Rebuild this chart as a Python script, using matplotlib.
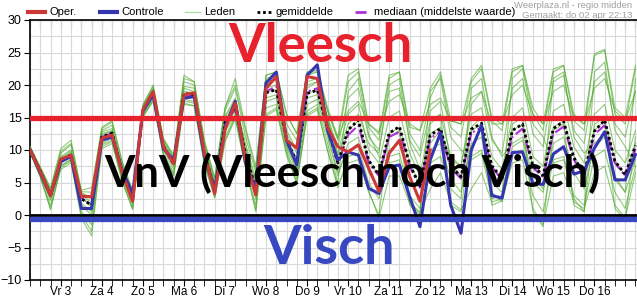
import numpy as np
import matplotlib
matplotlib.use("Agg")
import matplotlib.pyplot as plt
from matplotlib.lines import Line2D

plt.rcParams["font.family"] = ["Liberation Sans", "DejaVu Sans"]

# 6-hourly steps, starting at day 2 18:00
day_labels = ["Vr 3", "Za 4", "Zo 5", "Ma 6", "Di 7", "Wo 8", "Do 9", "Vr 10",
              "Za 11", "Zo 12", "Ma 13", "Di 14", "Wo 15", "Do 16"]

oper = [10.0, 6.7, 3.0, 8.6, 9.2, 2.9, 2.8, 11.8, 12.3, 6.4, 2.1, 16.2, 19.0, 10.5, 7.9,
        18.5, 18.8, 9.5, 3.3, 13.1, 17.2, 8.5, 3.1, 19.5, 21.3, 11.5, 10.3, 21.3, 21.0, 13.5,
        10.5, 9.7, 10.8, 7.2, 3.6, 9.5, 11.5, 5.9, 2.1, 10.0]

controle = [10.0, 6.5, 3.0, 8.2, 9.0, 1.0, 1.0, 11.5, 12.0, 6.8, 3.3, 16.0, 18.5, 10.2, 8.5,
            18.0, 18.2, 9.0, 4.0, 13.5, 17.5, 8.0, 4.0, 20.3, 22.0, 11.5, 7.7, 21.5, 23.1, 13.0,
            8.5, 9.7, 9.2, 4.1, 3.3, 7.4, 7.7, 2.8, -1.8, 8.5, 12.6, 1.5, -2.8, 10.0, 13.8,
            3.0, 2.6, 9.6, 9.7, 4.9, 4.7, 9.4, 10.5, 6.3, 6.8, 10.3, 12.8, 5.4, 5.4, 9.3]

gemiddelde = [10.0, 6.8, 3.0, 8.3, 9.3, 2.5, 1.5, 12.0, 12.6, 6.5, 2.5, 16.0, 18.7, 10.6, 7.8,
              18.7, 18.5, 9.5, 3.9, 14.2, 16.5, 9.5, 4.0, 18.8, 19.3, 11.5, 8.2, 18.7, 19.2, 13.4,
              8.0, 13.1, 14.6, 8.4, 6.2, 12.6, 13.6, 7.8, 4.5, 12.3, 13.3, 7.5, 5.9, 13.2, 14.1,
              7.6, 5.6, 13.0, 14.0, 7.6, 6.1, 13.3, 14.4, 8.8, 6.4, 12.9, 14.6, 8.3, 6.2, 10.7]

mediaan = [10.0, 6.8, 3.0, 8.3, 9.3, 2.6, 1.6, 12.0, 12.6, 6.5, 2.5, 16.0, 18.7, 10.6, 7.8,
           18.6, 18.4, 9.4, 3.8, 14.0, 16.3, 9.3, 3.8, 19.0, 19.8, 11.4, 8.0, 19.0, 19.5, 13.2,
           7.8, 12.3, 13.8, 8.0, 6.0, 12.0, 12.8, 7.5, 4.2, 11.8, 12.8, 7.2, 5.6, 12.6, 13.5,
           7.4, 5.4, 12.0, 13.3, 7.3, 5.8, 12.5, 13.6, 8.5, 6.0, 12.4, 13.8, 8.0, 6.0, 10.2]

# ensemble members (a selection)
lid_01 = [10.5, 7.2, 3.8, 9.5, 10.8, 3.5, 2.5, 13.0, 13.8, 7.5, 3.2, 16.8, 19.8, 11.5, 8.8,
          21.5, 20.5, 11.0, 5.0, 16.0, 19.5, 12.0, 6.5, 21.0, 21.5, 14.0, 11.5, 21.5, 22.0, 16.0,
          11.5, 20.5, 22.0, 13.5, 11.5, 21.0, 22.0, 12.5, 10.0, 18.0, 21.5, 13.5, 12.0, 20.5, 22.5,
          14.5, 13.0, 22.0, 23.0, 15.5, 13.0, 22.0, 23.0, 14.5, 13.0, 24.5, 25.3, 15.5, 14.0, 22.5]
lid_02 = [9.6, 5.8, 1.0, 7.0, 8.0, -0.5, -3.2, 10.2, 11.0, 5.0, 1.0, 15.0, 17.5, 9.0, 6.0,
          17.0, 16.8, 7.8, 2.8, 11.5, 15.0, 7.5, 0.8, 15.5, 16.5, 9.5, 5.0, 15.5, 16.5, 10.0,
          4.5, 8.0, 8.5, 3.8, -0.5, 6.0, 6.0, 1.8, 0.5, 4.0, 6.5, 2.0, 0.8, 4.0, 6.5,
          2.0, 2.5, 8.0, 8.5, 1.0, -1.5, 6.0, 6.5, 2.0, 1.0, 6.5, 7.5, 1.5, -0.5, 6.5]
lid_03 = [10.2, 7.0, 3.5, 9.0, 10.0, 3.0, 2.0, 12.8, 13.3, 7.0, 3.0, 16.5, 19.3, 11.0, 8.3,
          19.8, 19.5, 10.2, 4.5, 15.2, 18.0, 10.5, 5.0, 20.0, 20.8, 12.5, 9.5, 20.0, 20.5, 14.5,
          9.5, 15.5, 17.0, 10.0, 8.0, 15.0, 16.0, 9.5, 6.0, 14.5, 15.5, 9.0, 7.5, 15.5, 16.5,
          9.0, 7.0, 15.0, 16.5, 9.0, 7.5, 16.0, 17.0, 10.5, 8.0, 15.5, 17.0, 10.0, 8.0, 13.0]
lid_04 = [9.8, 6.2, 2.2, 7.6, 8.6, 1.5, 0.0, 11.0, 11.8, 5.8, 1.8, 15.5, 18.0, 10.0, 7.0,
          17.8, 17.5, 8.5, 3.2, 12.8, 15.5, 8.5, 2.5, 17.5, 18.0, 10.5, 6.5, 17.0, 17.8, 12.0,
          6.0, 11.0, 12.0, 6.5, 4.0, 10.0, 11.0, 5.5, 2.5, 10.0, 11.0, 5.5, 3.5, 11.0, 12.0,
          5.0, 3.5, 10.5, 11.5, 5.0, 3.5, 11.0, 12.0, 6.5, 4.0, 10.5, 12.0, 6.0, 3.5, 8.5]
lid_05 = [10.0, 6.9, 3.2, 8.5, 9.6, 2.8, 1.2, 12.3, 12.9, 6.7, 2.7, 16.2, 18.9, 10.8, 8.0,
          19.0, 18.8, 9.8, 4.2, 14.5, 17.0, 10.0, 4.5, 19.5, 20.0, 12.0, 8.5, 19.5, 20.5, 15.0,
          10.5, 18.0, 19.5, 12.0, 10.0, 19.0, 19.5, 11.5, 9.0, 16.0, 17.5, 8.0, 6.0, 9.0, 10.0,
          3.5, 2.0, 9.5, 10.0, 3.0, 0.5, 8.5, 9.0, 3.0, 1.5, 9.0, 10.0, 3.5, 1.0, 7.5]
lid_06 = [10.0, 6.5, 2.5, 8.0, 9.0, 1.8, 0.5, 11.5, 12.2, 6.2, 2.2, 15.8, 18.4, 10.3, 7.5,
          18.2, 18.0, 9.0, 3.5, 13.5, 16.0, 8.8, 3.0, 18.0, 18.5, 10.8, 7.0, 18.0, 18.5, 12.5,
          6.5, 10.0, 10.5, 5.0, 2.5, 9.0, 9.5, 3.0, 1.0, 11.0, 13.0, 8.5, 7.5, 17.0, 19.0,
          11.5, 9.5, 19.5, 21.0, 12.5, 10.5, 20.5, 21.5, 13.0, 11.0, 20.5, 22.0, 14.0, 12.0, 19.0]
lid_07 = [10.0, 6.8, 3.0, 8.3, 9.4, 2.6, 1.6, 12.0, 12.6, 6.5, 2.4, 16.0, 18.7, 10.6, 7.8,
          18.7, 18.5, 9.4, 3.8, 14.0, 16.4, 9.5, 4.0, 18.8, 19.3, 11.6, 8.2, 18.8, 19.2, 13.4,
          8.0, 13.0, 14.5, 8.5, 6.0, 12.5, 13.5, 8.0, 4.5, 12.5, 13.5, 7.5, 6.0, 13.0, 14.0,
          7.5, 5.5, 13.0, 14.0, 7.5, 6.0, 13.5, 14.5, 9.0, 6.5, 13.0, 14.5, 8.5, 6.0, 11.0]
lid_08 = [10.3, 7.0, 3.6, 8.8, 9.8, 3.2, 2.8, 12.5, 13.0, 7.2, 2.8, 16.4, 19.2, 11.2, 8.5,
          19.5, 19.0, 10.5, 4.8, 15.0, 17.5, 11.0, 5.5, 20.5, 21.0, 13.0, 10.0, 20.5, 21.0, 15.0,
          9.0, 14.0, 15.5, 11.0, 9.5, 20.0, 21.0, 11.0, 7.0, 8.0, 9.0, 4.0, 2.5, 19.5, 21.0,
          12.0, 9.0, 11.0, 12.0, 6.0, 4.0, 21.0, 22.0, 12.0, 9.5, 11.0, 12.5, 5.5, 3.5, 21.0]
lid_09 = [9.8, 6.0, 1.5, 7.3, 8.3, 0.5, -1.5, 10.8, 11.5, 5.5, 1.2, 15.3, 17.8, 9.5, 6.5,
          17.5, 17.2, 8.2, 3.0, 12.0, 15.2, 7.8, 1.5, 16.5, 17.0, 10.0, 5.5, 16.0, 17.0, 11.0,
          5.0, 19.0, 21.0, 12.5, 9.0, 8.0, 8.5, 2.0, 0.2, 19.0, 21.0, 12.0, 10.0, 8.5, 9.5,
          2.5, 3.0, 21.0, 22.5, 14.0, 12.0, 8.0, 8.5, 2.5, 0.5, 22.0, 23.5, 13.0, 10.5, 7.5]
lid_10 = [10.6, 7.4, 4.2, 10.2, 11.5, 3.8, 4.2, 13.3, 14.3, 8.2, 3.8, 17.0, 20.0, 11.8, 9.2,
          21.0, 20.5, 11.5, 5.8, 16.5, 21.0, 13.5, 7.5, 21.5, 22.0, 15.5, 12.5, 22.0, 22.3, 16.5,
          12.0, 21.5, 22.5, 14.0, 12.5, 21.5, 22.0, 13.5, 13.0, 19.5, 22.0, 14.5, 14.0, 21.0, 23.0,
          15.0, 14.0, 22.5, 23.0, 16.5, 14.0, 22.5, 23.0, 15.5, 14.0, 24.8, 25.5, 16.5, 15.0, 23.0]
lid_11 = [9.7, 6.0, 0.8, 7.5, 8.5, 0.0, -2.5, 10.5, 11.3, 5.2, 0.8, 15.2, 17.6, 9.2, 6.2,
          17.2, 16.8, 7.8, 2.6, 11.2, 14.8, 7.2, 0.5, 15.2, 16.2, 9.2, 4.8, 15.2, 16.2, 9.8,
          4.2, 9.0, 9.5, 3.5, 0.0, 12.0, 13.0, 1.5, 0.0, 14.0, 15.5, 1.5, 0.5, 13.5, 15.0,
          1.5, 2.2, 14.0, 15.0, 0.5, -1.8, 13.0, 14.0, 1.5, 0.5, 14.0, 15.0, 1.0, -0.8, 12.0]
lid_12 = [10.4, 7.3, 4.0, 9.8, 11.0, 3.6, 3.5, 13.5, 14.5, 8.0, 3.5, 16.7, 19.5, 11.6, 9.0,
          20.5, 20.0, 11.2, 5.5, 16.5, 20.0, 13.0, 7.0, 21.5, 22.0, 15.5, 12.5, 22.0, 22.0, 16.0,
          11.8, 16.0, 17.5, 14.0, 12.8, 17.5, 18.5, 14.0, 13.0, 17.0, 18.0, 14.5, 14.0, 18.0, 19.0,
          14.0, 14.0, 18.5, 20.0, 15.5, 14.0, 19.0, 20.0, 15.0, 14.0, 19.5, 21.0, 16.0, 14.5, 19.0]
leden = [lid_01, lid_02, lid_03, lid_04, lid_05, lid_06, lid_07, lid_08, lid_09, lid_10, lid_11, lid_12]

fig = plt.figure(figsize=(6.37, 3.01), dpi=100)
ax = fig.add_axes([30 / 637, 21 / 301, 607 / 637, 260 / 301])

# Ensemble members
for lid in leden:
    ax.plot(range(len(lid)), lid, color="#48a824", lw=0.8, alpha=0.6, zorder=3)

ax.plot(range(len(mediaan)), mediaan, color="#b030d8", lw=1.5, ls="-.", zorder=4)
ax.plot(range(len(gemiddelde)), gemiddelde, color="black", lw=2, ls=(0, (1, 1)), zorder=5)
ax.plot(range(len(controle)), controle, color="#3535b0", lw=2.2, zorder=6)
ax.plot(range(len(oper)), oper, color="#cc3838", lw=2.2, zorder=7)

# Reference lines
ax.axhline(15, color="#e8222c", lw=3.8, zorder=9)
ax.axhline(0, color="black", lw=2, zorder=9)
ax.axhline(-0.6, color="#3848c0", lw=3.8, zorder=9)

ax.set_xlim(0, 59.15)
ax.set_ylim(-10, 30)

# Grid: light every 6 h and every 2.5 degrees, dark at midnight
ax.set_xticks(range(3, 56, 4))
ax.set_xticklabels(day_labels, fontsize=8.5)
ax.set_xticks(range(0, 60), minor=True)
ax.set_yticks(range(-10, 31, 5))
ax.set_yticks(np.arange(-10, 30.1, 2.5), minor=True)
ax.tick_params(axis="y", which="major", labelsize=9, length=4, direction="out", pad=2)
ax.tick_params(axis="y", which="minor", length=0)
ax.tick_params(axis="x", which="both", length=4, direction="out", color="black", pad=0.5)
ax.grid(which="both", color="#d8d8d8", lw=0.8, zorder=0)
for d in range(1, 60, 4):
    ax.axvline(d, color="#404040", lw=0.7, zorder=1)

top = ax.secondary_xaxis("top")
top.set_xticks(range(0, 60))
top.set_xticklabels([])
top.tick_params(length=5, direction="in", color="#404040")

ax.spines["right"].set_visible(False)
for s in ["left", "bottom", "top"]:
    ax.spines[s].set_linewidth(1.2)

# Big annotations
big = ["Lato", "DejaVu Sans"]
ax.text(0.478, 0.90, "Vleesch", transform=ax.transAxes, ha="center", va="center",
        fontsize=38, fontweight="bold", color="#e8222c", family=big, zorder=10)
ax.text(0.531, 0.41, "VnV (Vleesch noch Visch)", transform=ax.transAxes, ha="center",
        va="center", fontsize=31.5, fontweight="bold", color="black", family=big, zorder=10)
ax.text(0.493, 0.12, "Visch", transform=ax.transAxes, ha="center", va="center",
        fontsize=39, fontweight="bold", color="#3848c0", family=big, zorder=10)

# Legend drawn on the figure
ly = 1 - 12 / 301
items = [
    (28, 45, dict(color="#cc3838", lw=3), "Oper."),
    (100, 117, dict(color="#3535b0", lw=3), "Controle"),
    (185, 200, dict(color="#b5dca0", lw=1), "Leden"),
    (257, 272, dict(color="black", lw=2, ls=(0, (1, 1))), "gemiddelde"),
    (355, 370, dict(color="#b030d8", lw=2, ls=(0, (4, 2, 1, 2))), "mediaan (middelste waarde)"),
]
for x0, x1, kw, label in items:
    fig.add_artist(Line2D([x0 / 637, x1 / 637], [ly, ly], transform=fig.transFigure, **kw))
    fig.text((x1 + 4) / 637, ly, label, fontsize=8, va="center", ha="left")

fig.text(632 / 637, 1 - 5 / 301, "Weerplaza.nl - regio midden", fontsize=6.8, color="#a0a0a0",
         ha="right", va="center")
fig.text(632 / 637, 1 - 15 / 301, "Gemaakt: do 02 apr 22:13", fontsize=6.8, color="#a0a0a0",
         ha="right", va="center")

fig.savefig("out.png", dpi=100)
